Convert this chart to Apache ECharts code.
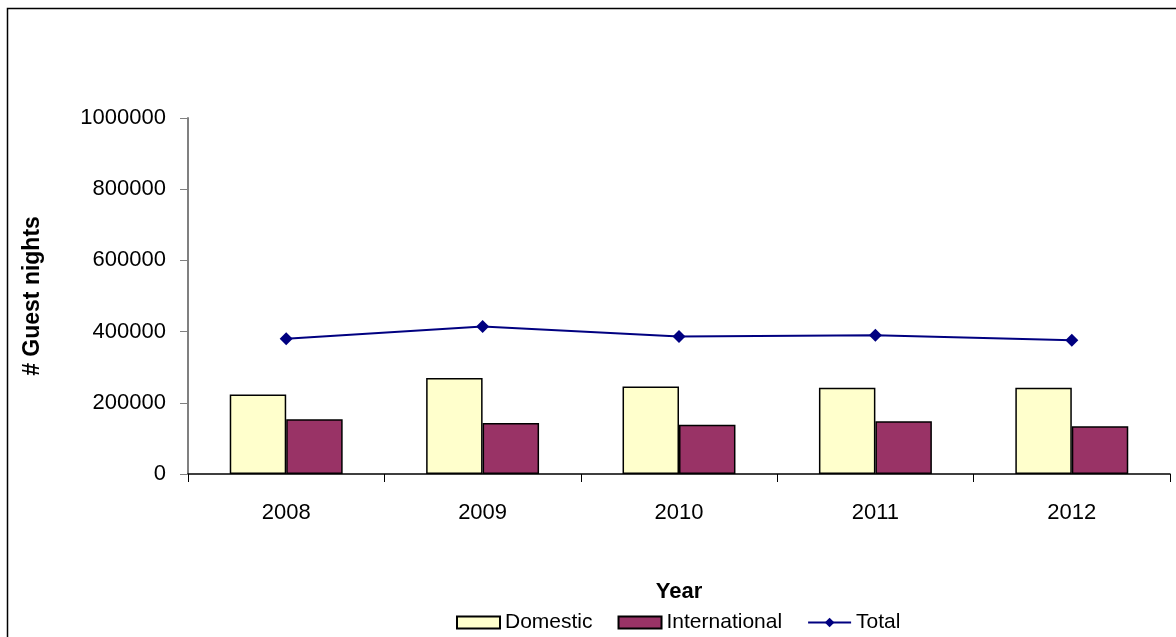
<!DOCTYPE html>
<html>
<head>
<meta charset="utf-8">
<script src="https://cdn.jsdelivr.net/npm/echarts@6/dist/echarts.min.js"></script>
<style>
    html, body { margin: 0; padding: 0; background: #fff; }
    #chart { width: 1176px; height: 637px; }
</style>
</head>
<body>
<div id="chart"></div>
<script>
// values
const years = ['2008', '2009', '2010', '2011', '2012'];
const domestic = [223000, 270000, 246000, 242000, 242000];
const international = [154000, 143000, 138000, 148000, 134000];
const total = [380000, 414000, 386000, 390000, 376000];

const font = 'Liberation Sans, Arial, sans-serif';

const chart = echarts.init(document.getElementById('chart'));

const option = {
    animation: false,
    backgroundColor: '#fff',
    textStyle: { fontFamily: font },
    // outer chart-area frame
    graphic: [{
        type: 'rect',
        shape: { x: 7.5, y: 8.5, width: 1300, height: 800 },
        style: { fill: 'none', stroke: '#000', lineWidth: 1.5 },
        silent: true
    }],
    grid: {
        left: 188,
        right: 6,
        top: 118,
        bottom: 163
    },
    legend: {
        left: 451,
        top: 607,
        itemWidth: 43,
        itemHeight: 12,
        itemGap: 25,
        textStyle: { fontSize: 21, color: '#000', fontFamily: font },
        data: [
            { name: 'Domestic', icon: 'rect' },
            { name: 'International', icon: 'rect' },
            { name: 'Total' }
        ]
    },
    xAxis: {
        type: 'category',
        data: years,
        name: 'Year',
        nameLocation: 'middle',
        nameGap: 107,
        nameTextStyle: { fontSize: 22, fontWeight: 'bold', color: '#000', fontFamily: font },
        axisLine: { lineStyle: { color: '#000', width: 1.5 } },
        axisTick: { show: true, length: 8, inside: false, lineStyle: { color: '#000' } },
        axisLabel: { fontSize: 22, color: '#000', margin: 28, fontFamily: font }
    },
    yAxis: {
        type: 'value',
        min: 0,
        max: 1000000,
        interval: 200000,
        name: '# Guest nights',
        nameLocation: 'middle',
        nameGap: 144,
        nameTextStyle: { fontSize: 23, fontWeight: 'bold', color: '#000', fontFamily: font },
        axisLine: { show: true, lineStyle: { color: '#808080', width: 2 } },
        axisTick: { show: true, length: 8, lineStyle: { color: '#808080' } },
        splitLine: { show: false },
        axisLabel: {
            fontSize: 22,
            color: '#000',
            margin: 22,
            fontFamily: font,
            formatter: v => String(v)
        }
    },
    series: [
        {
            name: 'Domestic',
            type: 'bar',
            data: domestic,
            barGap: '0%',
            barCategoryGap: '42.5%',
            itemStyle: { color: '#FFFFCC', borderColor: '#000', borderWidth: 1.5 }
        },
        {
            name: 'International',
            type: 'bar',
            data: international,
            itemStyle: { color: '#993366', borderColor: '#000', borderWidth: 1.5 }
        },
        {
            name: 'Total',
            type: 'line',
            data: total,
            symbol: 'diamond',
            symbolSize: 13,
            lineStyle: { color: '#000080', width: 2 },
            itemStyle: { color: '#000080' }
        }
    ]
};

chart.setOption(option);
</script>
</body>
</html>
